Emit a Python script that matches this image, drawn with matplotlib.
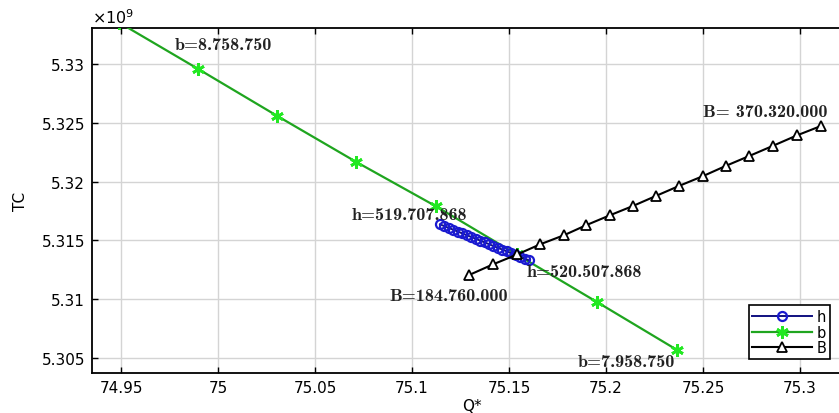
import matplotlib
matplotlib.use("Agg")
import matplotlib.pyplot as plt

# h sweep (TC in units of 1e9)
h_q = [75.1144, 75.1167, 75.1190, 75.1213, 75.1236, 75.1259, 75.1282,
       75.1305, 75.1328, 75.1351, 75.1374, 75.1396, 75.1419, 75.1442,
       75.1465, 75.1488, 75.1511, 75.1534, 75.1557, 75.1580, 75.1603]
h_tc = [5.31636, 5.31621, 5.31605, 5.31590, 5.31575, 5.31559, 5.31544,
        5.31529, 5.31514, 5.31498, 5.31483, 5.31468, 5.31452, 5.31437,
        5.31422, 5.31407, 5.31391, 5.31376, 5.31361, 5.31345, 5.31330]

# b sweep
b_q = [74.9490, 74.9897, 75.0304, 75.0710, 75.1125, 75.1540, 75.1954, 75.2366]
b_tc = [5.33352, 5.32958, 5.32559, 5.32169, 5.31788, 5.31380, 5.30975, 5.30568]

# B sweep
B_q = [75.1295, 75.1419, 75.1543, 75.1660, 75.1785, 75.1899, 75.2021, 75.2141,
       75.2259, 75.2378, 75.2502, 75.2617, 75.2739, 75.2859, 75.2983, 75.3107]
B_tc = [5.31206, 5.31297, 5.31381, 5.31466, 5.31545, 5.31630, 5.31714, 5.31794,
        5.31879, 5.31964, 5.32048, 5.32133, 5.32218, 5.32303, 5.32392, 5.32472]

x_ticks = [74.95, 75.0, 75.05, 75.1, 75.15, 75.2, 75.25, 75.3]
x_labels = ["74.95", "75", "75.05", "75.1", "75.15", "75.2", "75.25", "75.3"]
y_ticks = [5.305, 5.31, 5.315, 5.32, 5.325, 5.33]
y_labels = ["5.305", "5.31", "5.315", "5.32", "5.325", "5.33"]

# end-point annotations: (text, x, y)
notes = [
    ("b=8.758.750", 74.9778, 5.33163),
    ("h=519.707.868", 75.0691, 5.31724),
    ("h=520.507.868", 75.1593, 5.31231),
    ("B=184.760.000", 75.0881, 5.31027),
    ("B= 370.320.000", 75.2500, 5.32592),
    ("b=7.958.750", 75.1856, 5.30466),
]

fig = plt.figure(figsize=(8.39, 4.14), dpi=100)
ax = fig.add_axes([92 / 839, 40 / 414, (852 - 92) / 839, (374 - 29) / 414])

ax.plot(h_q, h_tc, color="#101080", lw=1.4, marker="o", ms=6.5,
        mfc="none", mec="#1a1ad0", mew=1.6, label="h", zorder=4)
ax.plot(b_q, b_tc, color="#1fa51f", lw=1.6, marker=(6, 2, 0), ms=9,
        mfc="#22e822", mec="#22e822", mew=2, label="b", zorder=3)
ax.plot(B_q, B_tc, color="black", lw=1.5, marker="^", ms=7.5,
        mfc="white", mec="black", mew=1.3, label="B", zorder=5)

for txt, x, y in notes:
    ax.text(x, y, txt, fontfamily="cmb10", fontsize=13, va="center",
            ha="left", color="#222222", zorder=6)

ax.set_xlim(74.935, 75.3268)
ax.set_ylim(5.30372, 5.33306)
ax.set_xticks(x_ticks, x_labels)
ax.set_yticks(y_ticks, y_labels)
ax.tick_params(direction="in", length=4, width=1, labelsize=11,
               top=True, right=True, pad=5)
ax.grid(True, color="#d4d4d4", lw=1)
ax.set_axisbelow(True)
for s in ax.spines.values():
    s.set_linewidth(1.3)

ax.set_xlabel("Q*", fontsize=11, labelpad=2)
ax.set_ylabel("TC", fontsize=11, labelpad=10)
ax.text(0.0, 1.005, r"$\times10^{9}$", transform=ax.transAxes,
        fontsize=11.5, ha="left", va="bottom")

leg = ax.legend(loc="lower right", bbox_to_anchor=(830 / 839, 54 / 414),
                bbox_transform=fig.transFigure, borderaxespad=0,
                fancybox=False, edgecolor="black", framealpha=1,
                fontsize=10.5, handlelength=4.1, labelspacing=0.05,
                borderpad=0.25, handletextpad=0.3)
leg.get_frame().set_linewidth(1.2)

fig.savefig("out.png", dpi=100)
